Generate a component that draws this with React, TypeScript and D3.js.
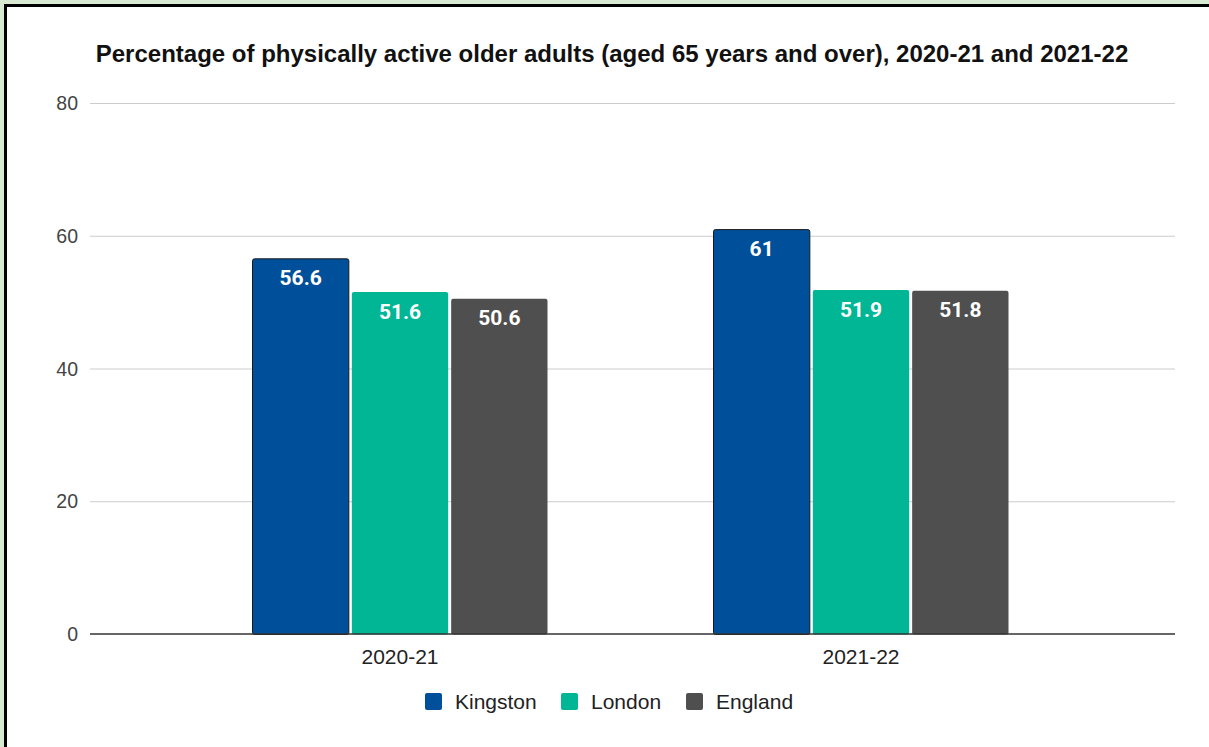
import React from "react";
import * as d3 from "d3";

const categories = ["2020-21", "2021-22"];
const seriesNames = ["Kingston", "London", "England"];
const kingston = [56.6, 61];
const london = [51.6, 51.9];
const england = [50.6, 51.8];
const yTicks = [0, 20, 40, 60, 80];
const colors = ["#004f9b", "#00b694", "#4f4f4f"];
const title = "Percentage of physically active older adults (aged 65 years and over), 2020-21 and 2021-22";

const W = 1209;
const H = 747;

export default function App() {
  const series = [kingston, london, england];
  const y = d3.scaleLinear().domain([0, 80]).range([634, 103]);
  const x0 = d3.scaleBand<string>().domain(categories).range([169.5, 1091.5]).paddingInner(0).paddingOuter(0);
  const GW = 296;
  const x1 = d3.scaleBand<string>().domain(seriesNames).range([0, GW]).paddingInner(0.02).paddingOuter(0);
  const groupOffset = (x0.bandwidth() - GW) / 2;
  const gridL = 90;
  const gridR = 1175;
  const font = "Arial, 'Liberation Sans', sans-serif";

  const legendItems = [
    { name: seriesNames[0], x: 425 },
    { name: seriesNames[1], x: 561 },
    { name: seriesNames[2], x: 686 },
  ];

  return (
    <svg
      width={W}
      height={H}
      style={{ position: "fixed", left: 0, top: 0, display: "block" }}
    >
      <rect x={0} y={0} width={W} height={H} fill="#d9ead3" />
      <rect x={5.5} y={5.5} width={W + 10} height={H + 10} fill="#ffffff" stroke="#000" strokeWidth={3} />
      <text
        x={612}
        y={62}
        textAnchor="middle"
        fontFamily={font}
        fontWeight="bold"
        fontSize={24}
        fill="#111"
      >
        {title}
      </text>
      {yTicks.map((t) => (
        <g key={t}>
          {t !== 0 && (
            <line x1={gridL} x2={gridR} y1={y(t) + 0.5} y2={y(t) + 0.5} stroke="#cccccc" strokeWidth={1} />
          )}
          <text
            x={78}
            y={y(t) + 7}
            textAnchor="end"
            fontFamily={font}
            fontSize={19.5}
            fill="#444"
          >
            {t}
          </text>
        </g>
      ))}
      {categories.map((c, ci) => (
        <g key={c} transform={`translate(${x0(c)! + groupOffset},0)`}>
          {seriesNames.map((s, si) => {
            const v = series[si][ci];
            const bx = x1(s)!;
            const bw = x1.bandwidth();
            const top = y(v);
            return (
              <g key={s}>
                <rect
                  x={bx + 0.5}
                  y={top + 0.5}
                  width={bw - 1}
                  height={y(0) - top}
                  rx={2}
                  ry={2}
                  fill={colors[si]}
                  stroke={si === 0 ? "#1a1a1a" : "none"}
                  strokeWidth={1}
                />
                <text
                  x={bx + bw / 2}
                  y={top + 27}
                  textAnchor="middle"
                  fontFamily="Roboto, Arial, sans-serif"
                  fontWeight="bold"
                  fontSize={21}
                  fill="#ffffff"
                >
                  {String(v)}
                </text>
              </g>
            );
          })}
          <text
            x={x0.bandwidth() / 2 - groupOffset}
            y={664}
            textAnchor="middle"
            fontFamily={font}
            fontSize={21}
            fill="#222"
          >
            {c}
          </text>
        </g>
      ))}
      <line x1={gridL} x2={gridR} y1={y(0)} y2={y(0)} stroke="#333" strokeWidth={1.5} />
      {legendItems.map((l, i) => (
        <g key={l.name}>
          <rect x={l.x} y={693} width={17} height={17} rx={2} fill={colors[i]} />
          <text x={l.x + 30} y={709} fontFamily={font} fontSize={21} fill="#222">
            {l.name}
          </text>
        </g>
      ))}
    </svg>
  );
}
